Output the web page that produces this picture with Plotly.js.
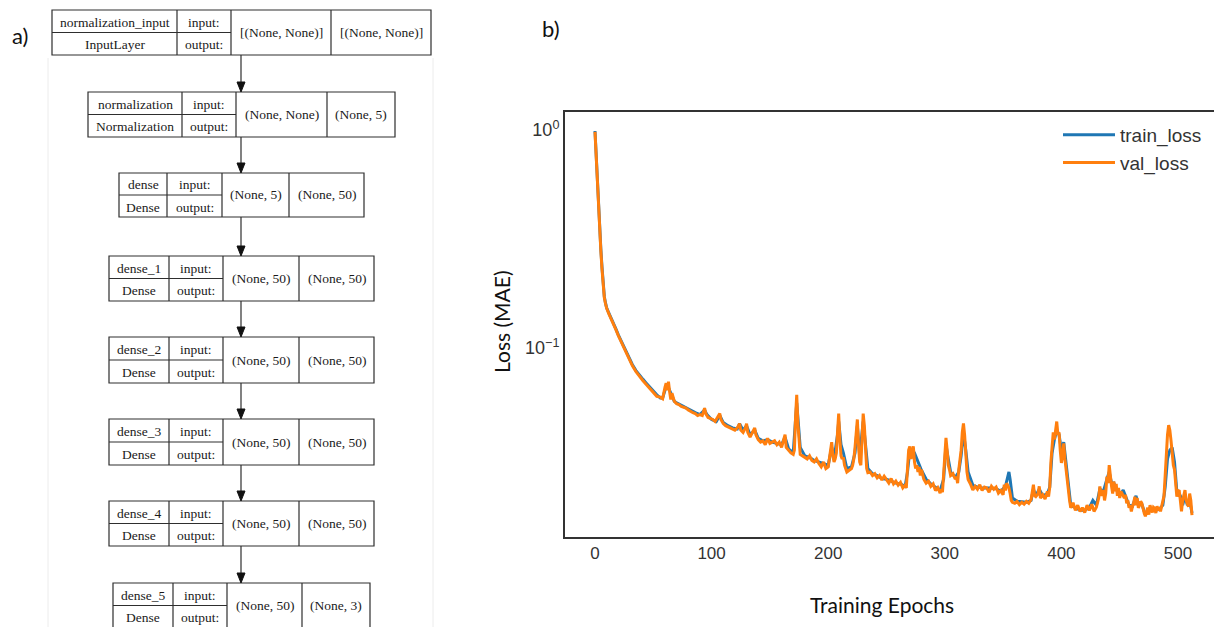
<!DOCTYPE html>
<html><head><meta charset="utf-8">
<script src="https://cdn.plot.ly/plotly-3.0.1.min.js"></script>
<style>html,body{margin:0;padding:0;background:#fff;overflow:hidden}#chart{width:1214px;height:627px}</style>
</head><body><div id="chart"></div>
<script>
// ---------- data: loss curves ([epoch, loss]) ----------
const valLossPoints = [
[0,0.98],[1,0.74],[2,0.55],[3,0.43],[4,0.34],[5,0.28],[6,0.23],[7,0.195],[8,0.170],[9,0.160],[10,0.152],[12,0.143],[14,0.136],[16,0.128],[18,0.121],[20,0.114],
[23,0.105],[26,0.097],[29,0.090],[32,0.083],[35,0.078],[38,0.074],[41,0.071],[44,0.068],[47,0.065],[50,0.062],[53,0.060],[56,0.0595],[58,0.0585],
[60,0.066],[61,0.069],[62,0.064],[63,0.070],[64,0.063],[65,0.058],[66,0.062],[68,0.057],[70,0.0555],[72,0.055],[74,0.054],[76,0.0535],[78,0.053],
[80,0.052],[82,0.051],[84,0.0505],[86,0.050],[88,0.049],[90,0.0495],[92,0.049],[94,0.053],[95,0.050],[97,0.048],[99,0.0475],[101,0.047],[103,0.046],
[105,0.048],[107,0.050],[108,0.047],[110,0.045],[112,0.044],[114,0.0435],[116,0.043],[118,0.0425],[120,0.042],[122,0.043],[124,0.045],[125,0.042],
[127,0.041],[129,0.043],[130,0.045],[131,0.041],[133,0.039],[135,0.041],[137,0.043],[138,0.040],[140,0.038],[142,0.037],[144,0.0375],[146,0.036],
[148,0.0385],[150,0.0365],[152,0.037],[154,0.0375],[156,0.036],[158,0.037],[160,0.035],[162,0.039],[163,0.040],[164,0.035],[166,0.034],[168,0.033],
[170,0.0325],[171,0.034],[172,0.048],[173,0.061],[174,0.045],[175,0.036],[176,0.0325],[178,0.032],[180,0.0315],[182,0.031],[184,0.032],[186,0.0305],
[188,0.030],[190,0.031],[192,0.0295],[194,0.0285],[196,0.030],[198,0.028],[200,0.0285],[201,0.031],[202,0.035],[203,0.037],[204,0.032],[205,0.030],
[206,0.031],[207,0.033],[208,0.041],[209,0.050],[210,0.038],[211,0.032],[212,0.031],[213,0.0315],[214,0.029],[216,0.027],[218,0.0275],[220,0.028],
[221,0.029],[222,0.031],[223,0.035],[224,0.042],[225,0.047],[226,0.036],[227,0.030],[228,0.029],[229,0.036],[230,0.050],[231,0.044],[232,0.032],
[233,0.028],[234,0.0268],[236,0.027],[238,0.026],[240,0.0265],[242,0.0254],[244,0.026],[246,0.0248],[248,0.0258],[250,0.0249],[252,0.024],[254,0.0252],
[256,0.0238],[258,0.0245],[260,0.0235],[262,0.0242],[264,0.0228],[266,0.0235],[267,0.0228],[268,0.028],[269,0.034],[270,0.0354],[271,0.031],[272,0.033],
[273,0.0354],[274,0.030],[275,0.028],[276,0.029],[277,0.027],[278,0.0285],[279,0.026],[280,0.0277],[282,0.025],[284,0.024],[286,0.0245],[288,0.0232],
[290,0.0238],[292,0.0222],[294,0.0229],[296,0.0216],[297,0.0225],[298,0.0218],[299,0.026],[300,0.033],[301,0.0387],[302,0.034],[303,0.029],[304,0.0277],
[305,0.026],[307,0.0265],[309,0.025],[310,0.0257],[311,0.024],[312,0.0277],[313,0.030],[314,0.034],[315,0.041],[316,0.0451],[317,0.040],[318,0.032],
[319,0.027],[320,0.0249],[322,0.0238],[324,0.0223],[326,0.0232],[328,0.0225],[330,0.0236],[332,0.0222],[334,0.023],[336,0.0228],[338,0.0218],[340,0.0232],
[342,0.0225],[344,0.0230],[346,0.0216],[348,0.0222],[350,0.0212],[351,0.0236],[352,0.0222],[353,0.024],[354,0.0235],[355,0.0228],[356,0.0215],[357,0.020],
[358,0.0196],[360,0.0194],[362,0.0198],[364,0.0191],[366,0.0196],[368,0.0192],[370,0.0198],[372,0.0194],[374,0.0202],[375,0.0215],[376,0.0236],[377,0.021],
[378,0.0208],[380,0.0215],[381,0.0232],[382,0.0205],[384,0.0212],[386,0.0203],[388,0.022],[389,0.0208],[390,0.023],[391,0.030],[392,0.036],[393,0.041],
[394,0.038],[395,0.043],[396,0.046],[397,0.040],[398,0.041],[399,0.034],[400,0.0297],[401,0.032],[402,0.0365],[403,0.031],[404,0.0277],[405,0.024],
[406,0.021],[407,0.020],[408,0.0185],[410,0.0195],[412,0.018],[414,0.019],[416,0.0178],[418,0.0185],[420,0.0176],[422,0.019],[424,0.018],[426,0.0192],
[428,0.0178],[430,0.0186],[432,0.0205],[433,0.0232],[434,0.021],[436,0.0223],[437,0.020],[438,0.0215],[439,0.0257],[440,0.024],[441,0.029],[442,0.025],
[443,0.0232],[444,0.0215],[445,0.0244],[446,0.022],[447,0.0238],[448,0.021],[449,0.0228],[450,0.0205],[451,0.022],[452,0.0215],[454,0.0205],[455,0.0212],
[456,0.0194],[457,0.020],[458,0.0185],[459,0.019],[460,0.0178],[461,0.0188],[462,0.0195],[463,0.0208],[464,0.019],[465,0.0205],[466,0.0185],[467,0.019],
[468,0.0198],[469,0.0194],[470,0.018],[471,0.0175],[472,0.0169],[473,0.0178],[474,0.0185],[475,0.0172],[476,0.019],[477,0.0182],[478,0.0176],[479,0.0186],
[480,0.0184],[481,0.0175],[482,0.0188],[483,0.018],[484,0.0186],[485,0.0178],[486,0.0188],[487,0.0194],[488,0.021],[489,0.026],[490,0.033],[491,0.040],
[492,0.0443],[493,0.042],[494,0.0377],[495,0.033],[496,0.029],[497,0.0277],[498,0.024],[499,0.0208],[500,0.022],[501,0.0223],[502,0.020],[503,0.0178],
[504,0.020],[505,0.0215],[506,0.0223],[507,0.020],[508,0.0195],[509,0.0187],[510,0.0215],[511,0.020],[512,0.0171]
];
const trainLossPoints = [
[0,0.99],[1,0.76],[2,0.56],[3,0.44],[4,0.35],[5,0.285],[6,0.235],[7,0.20],[8,0.172],[9,0.161],[10,0.153],[12,0.144],[14,0.137],[16,0.129],[18,0.122],
[20,0.115],[23,0.106],[26,0.098],[29,0.091],[32,0.084],[35,0.079],[38,0.075],[41,0.072],[44,0.069],[47,0.066],[50,0.063],[53,0.061],[56,0.059],[58,0.059],
[60,0.064],[62,0.068],[64,0.064],[66,0.060],[68,0.057],[70,0.056],[74,0.0545],[78,0.053],[82,0.0515],[86,0.0505],[90,0.0495],[94,0.052],[96,0.0495],
[100,0.047],[104,0.046],[107,0.049],[110,0.0455],[114,0.044],[118,0.043],[122,0.0425],[124,0.045],[127,0.042],[130,0.044],[133,0.040],[137,0.042],
[140,0.0385],[144,0.0375],[148,0.038],[152,0.037],[156,0.0365],[160,0.036],[163,0.039],[166,0.0345],[170,0.033],[172,0.045],[173,0.056],[174,0.048],
[176,0.035],[180,0.032],[184,0.0315],[188,0.0305],[192,0.030],[196,0.0295],[200,0.029],[203,0.035],[205,0.031],[208,0.040],[209,0.046],[211,0.036],
[213,0.033],[216,0.028],[220,0.0285],[223,0.033],[225,0.044],[227,0.032],[230,0.046],[232,0.036],[234,0.028],[238,0.0265],[242,0.026],[246,0.0252],
[250,0.025],[254,0.0245],[258,0.024],[262,0.0238],[266,0.0232],[268,0.027],[270,0.034],[272,0.033],[274,0.033],[276,0.031],[278,0.029],[280,0.0275],
[284,0.025],[288,0.0238],[292,0.023],[296,0.0222],[299,0.025],[301,0.036],[303,0.031],[305,0.027],[309,0.0255],[312,0.027],[314,0.032],[316,0.041],
[318,0.034],[320,0.027],[324,0.0235],[328,0.023],[332,0.0228],[336,0.0228],[340,0.0228],[344,0.0226],[348,0.022],[352,0.0232],[354,0.026],[355,0.027],
[356,0.025],[358,0.0205],[362,0.0198],[366,0.0197],[370,0.0196],[374,0.020],[376,0.0225],[378,0.021],[381,0.0225],[384,0.021],[388,0.0215],[390,0.023],
[392,0.033],[394,0.038],[396,0.042],[398,0.040],[400,0.034],[402,0.037],[404,0.030],[406,0.023],[408,0.019],[412,0.0185],[416,0.018],[420,0.018],
[424,0.0185],[427,0.020],[430,0.019],[433,0.0225],[436,0.022],[439,0.025],[441,0.027],[443,0.024],[445,0.024],[448,0.022],[451,0.0215],[453,0.0223],
[455,0.021],[458,0.019],[461,0.0188],[464,0.021],[466,0.019],[469,0.0192],[472,0.0172],[476,0.0185],[480,0.018],[484,0.0182],[487,0.019],[489,0.023],
[491,0.031],[493,0.034],[495,0.035],[497,0.030],[499,0.022],[502,0.021],[504,0.019],[506,0.021],[508,0.019],[510,0.020],[512,0.0175]
];
const seriesNames = ['train_loss', 'val_loss'];
const xTickVals = [0, 100, 200, 300, 400, 500];
const yTickVals = [1, 0.1];
const yTickText = ['10<sup>0</sup>', '10<sup>−1</sup>'];

// ---------- data: model diagram text ----------
const layerNames   = ['normalization_input', 'normalization', 'dense', 'dense_1', 'dense_2', 'dense_3', 'dense_4', 'dense_5'];
const layerClasses = ['InputLayer', 'Normalization', 'Dense', 'Dense', 'Dense', 'Dense', 'Dense', 'Dense'];
const inShapes     = ['[(None, None)]', '(None, None)', '(None, 5)', '(None, 50)', '(None, 50)', '(None, 50)', '(None, 50)', '(None, 50)'];
const outShapes    = ['[(None, None)]', '(None, 5)', '(None, 50)', '(None, 50)', '(None, 50)', '(None, 50)', '(None, 50)', '(None, 3)'];

// ---------- layout geometry (pixels) ----------
const W = 1214, H = 627;
const boxCols = [[52,177,231,331,431],[88,182,236,327,395],[119,167,222,289,364],[109,169,223,299,374],
                 [109,169,223,299,374],[109,169,223,299,374],[109,169,223,299,374],[113,173,227,302,370]];
const boxRows = [[10,55],[92,137],[173,217],[256,301],[337,383],[419,465],[501,546],[583,628]];
const arrowX = 241;

const px = x => x / W;
const py = y => 1 - y / H;

const shapes = [];
const annotations = [];
const lineCol = '#2e2e2e';
const serif = {family: 'Liberation Serif, Times New Roman, serif', size: 13.5, color: '#1a1a1a'};

function seg(x0, y0, x1, y1, color, width) {
  shapes.push({type: 'line', xref: 'paper', yref: 'paper', x0: px(x0), y0: py(y0), x1: px(x1), y1: py(y1),
               line: {color: color || lineCol, width: width || 1.2}});
}
function txt(x, y, t, font, extra) {
  annotations.push(Object.assign({xref: 'paper', yref: 'paper', x: px(x), y: py(y), text: t, showarrow: false,
    xanchor: 'center', yanchor: 'middle', font: font}, extra || {}));
}

// faint frame of the embedded diagram image
seg(48, 58, 48, 627, '#ececec', 1);
seg(433, 58, 433, 627, '#ececec', 1);

layerNames.forEach((nm, i) => {
  const [l, c1, c2, c3, r] = boxCols[i];
  const [t, b] = boxRows[i];
  const m = (t + b) / 2;
  shapes.push({type: 'rect', xref: 'paper', yref: 'paper', x0: px(l), x1: px(r), y0: py(b), y1: py(t),
               line: {color: lineCol, width: 1.2}, fillcolor: 'rgba(0,0,0,0)'});
  seg(c1, t, c1, b); seg(c2, t, c2, b); seg(c3, t, c3, b);
  seg(l, m, c2, m);
  txt((l + c1) / 2, (t + m) / 2 + 1, nm, serif);
  txt((l + c1) / 2, (m + b) / 2 + 1, layerClasses[i], serif);
  txt((c1 + c2) / 2, (t + m) / 2 + 1, 'input:', serif);
  txt((c1 + c2) / 2, (m + b) / 2 + 1, 'output:', serif);
  txt((c2 + c3) / 2, m, inShapes[i], serif);
  txt((c3 + r) / 2, m, outShapes[i], serif);
  if (i > 0) {
    const yb = boxRows[i - 1][1], yt = t;
    seg(arrowX, yb, arrowX, yt - 8);
    shapes.push({type: 'path', xref: 'paper', yref: 'paper',
      path: `M ${px(arrowX - 4)} ${py(yt - 10)} L ${px(arrowX + 4)} ${py(yt - 10)} L ${px(arrowX)} ${py(yt)} Z`,
      fillcolor: '#111', line: {color: '#111', width: 1}});
  }
});

// panel labels and axis titles
const cal = {family: 'Lato, Open Sans, sans-serif', size: 22, color: '#111'};
txt(20, 35, 'a)', cal);
txt(551, 28, 'b)', cal);
txt(882, 604, 'Training Epochs', {family: 'Lato, sans-serif', size: 21, color: '#111'});
txt(501, 322, 'Loss (MAE)', {family: 'Lato, sans-serif', size: 21, color: '#111'}, {textangle: -90});

// ---------- plot area ----------
const plotL = 565, plotT = 112, plotB = 537;
const x0px = 595, pxPerEpoch = 1.166;
const y1px = 130, pxPerDecade = 218;

const traces = [
  {x: trainLossPoints.map(p => p[0]), y: trainLossPoints.map(p => p[1]), name: seriesNames[0], type: 'scatter', mode: 'lines',
   line: {color: '#1f77b4', width: 3}},
  {x: valLossPoints.map(p => p[0]), y: valLossPoints.map(p => p[1]), name: seriesNames[1], type: 'scatter', mode: 'lines',
   line: {color: '#ff7f0e', width: 3}}
];

const tickFont = {family: 'Liberation Sans, Arial, sans-serif', size: 17, color: '#333'};
const layout = {
  width: W, height: H, margin: {l: 0, r: 0, t: 0, b: 0}, paper_bgcolor: '#fff', plot_bgcolor: '#fff',
  showlegend: true,
  legend: {x: px(1058), y: py(116), xanchor: 'left', yanchor: 'top', bgcolor: 'rgba(0,0,0,0)', borderwidth: 0,
           font: {family: 'Liberation Sans, Arial, sans-serif', size: 19, color: '#333'}, itemwidth: 52, tracegroupgap: 0},
  xaxis: {domain: [px(plotL), 1], range: [(plotL - x0px) / pxPerEpoch, (W - x0px) / pxPerEpoch],
          showline: true, mirror: true, linecolor: '#333', linewidth: 2, showgrid: false, zeroline: false,
          ticks: '', tickvals: xTickVals, tickfont: tickFont, fixedrange: true},
  yaxis: {domain: [py(plotB), py(plotT)], type: 'log',
          range: [-(plotB - y1px) / pxPerDecade, (y1px - plotT) / pxPerDecade],
          showline: true, mirror: false, linecolor: '#333', linewidth: 2, showgrid: false, zeroline: false,
          ticks: '', tickvals: yTickVals, ticktext: yTickText, tickfont: {family: 'Liberation Sans, Arial, sans-serif', size: 18, color: '#333'}, fixedrange: true},
  shapes: shapes, annotations: annotations
};
Plotly.newPlot('chart', traces, layout, {staticPlot: true, displayModeBar: false});
</script>
</body></html>
